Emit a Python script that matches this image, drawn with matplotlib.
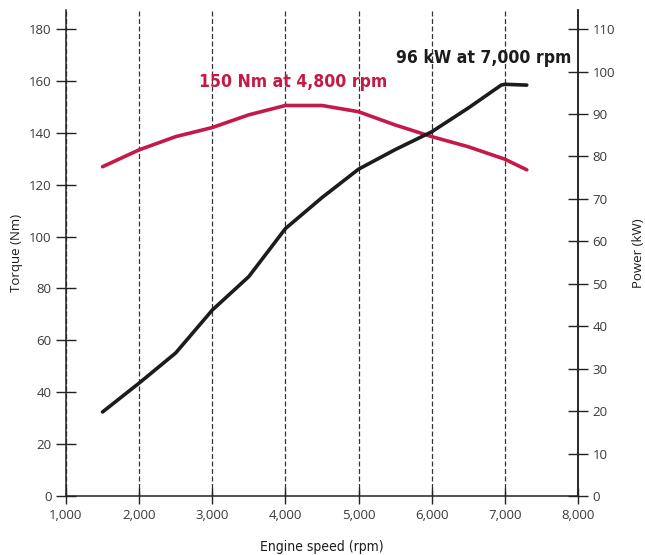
import matplotlib
matplotlib.use('Agg')
import matplotlib.pyplot as plt
from matplotlib.ticker import FuncFormatter

# engine speed (rpm)
rpm_torque = [1500, 2000, 2500, 3000, 3500, 4000, 4500, 5000, 5500, 6000, 6500, 7000, 7300]
torque_nm = [126.9, 133.4, 138.5, 142.0, 146.9, 150.5, 150.5, 148.1, 143.0, 138.5, 134.6, 129.8, 125.7]

rpm_power = [1500, 2000, 2500, 3000, 3500, 4000, 4500, 5000, 5500, 6000, 6500, 6950, 7000, 7300]
power_kw = [19.8, 26.6, 33.7, 43.8, 51.7, 63.0, 70.3, 77.0, 81.6, 85.8, 91.4, 96.8, 97.0, 96.8]

x_ticks = [1000, 2000, 3000, 4000, 5000, 6000, 7000, 8000]
torque_ticks = list(range(0, 181, 20))
power_ticks = list(range(0, 111, 10))

red = '#c41a48'
ink = '#1c1c1c'
tick_col = '#3a3a3a'
label_font = ['Open Sans', 'DejaVu Sans']

fig = plt.figure(figsize=(6.45, 5.55), dpi=100)
ax = fig.add_axes([0.1023, 0.1063, 0.7938, 0.8757])
ax2 = ax.twinx()

ax.plot(rpm_torque, torque_nm, color=red, lw=2.6, solid_capstyle='round', solid_joinstyle='round', zorder=3)
ax2.plot(rpm_power, power_kw, color=ink, lw=2.6, solid_capstyle='round', solid_joinstyle='round', zorder=3)

ax.set_xlim(1000, 8000)
ax.set_ylim(0, 187.3)
ax2.set_ylim(0, 114.5)

ax.set_xticks(x_ticks)
ax.xaxis.set_major_formatter(FuncFormatter(lambda v, p: f'{int(v):,}'))
ax.set_yticks(torque_ticks)
ax2.set_yticks(power_ticks)

ax.grid(axis='x', color='#333333', ls=(0, (4, 2)), lw=0.9)
ax.set_axisbelow(True)

for a in (ax, ax2):
    a.spines['top'].set_visible(False)
    for s in a.spines.values():
        s.set_linewidth(1.1)
        s.set_color('#222222')
    a.tick_params(direction='inout', length=14, width=1.0, color='#222222',
                  labelsize=9.5, labelcolor=tick_col)
ax.tick_params(axis='x', length=12, pad=3)
ax2.spines['left'].set_visible(False)
ax2.spines['bottom'].set_visible(False)

for lab in ax.get_xticklabels() + ax.get_yticklabels() + ax2.get_yticklabels():
    lab.set_family(label_font)

ax.set_xlabel('Engine speed (rpm)', family='DejaVu Sans', stretch='condensed', fontsize=10,
              color=ink, labelpad=13)
ax.set_ylabel('Torque (Nm)', family=label_font, fontsize=9.5, color=ink, labelpad=4)
ax2.set_ylabel('Power (kW)', family=label_font, fontsize=9.5, color=ink, labelpad=12)

ax.text(4105, 159.6, '150 Nm at 4,800 rpm', color=red, fontsize=12.6, fontweight='bold',
        family='DejaVu Sans', stretch='condensed', ha='center', va='center')
ax.text(6707, 168.8, '96 kW at 7,000 rpm', color=ink, fontsize=12.6, fontweight='bold',
        family='DejaVu Sans', stretch='condensed', ha='center', va='center')

fig.savefig('out.png', dpi=100)
